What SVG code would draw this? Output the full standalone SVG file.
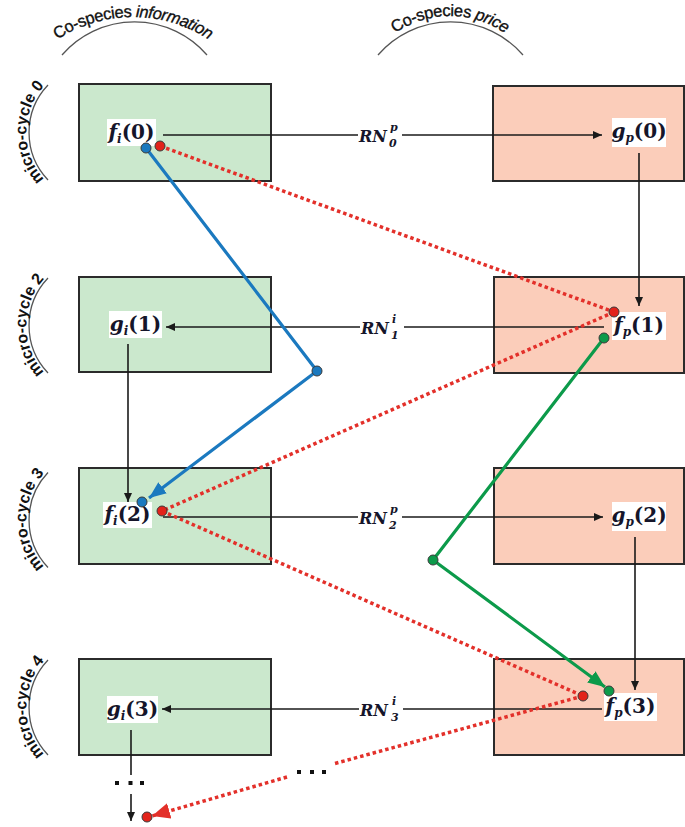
<svg xmlns="http://www.w3.org/2000/svg" width="685" height="827" viewBox="0 0 685 827">
<style>
.boxg{fill:#cbe8cd;stroke:#2b2b2b;stroke-width:2}
.boxp{fill:#fbcdba;stroke:#2b2b2b;stroke-width:2}
.lbl{fill:#ffffff}
.m{font-family:"DejaVu Serif","Liberation Serif",serif;font-weight:bold;font-size:20px;fill:#15152a}
.it{font-style:italic}
.sub{font-size:12px}
.rn{font-family:"DejaVu Serif","Liberation Serif",serif;font-weight:bold;font-style:italic;font-size:16px;fill:#15152a}
.rns{font-family:"DejaVu Serif","Liberation Serif",serif;font-weight:bold;font-style:italic;font-size:11px;fill:#15152a}
.blk{fill:none;stroke:#1a1a1a;stroke-width:1.6}
.red{fill:none;stroke:#e3302a;stroke-width:3.5;stroke-dasharray:3.5 3}
.blue{fill:none;stroke:#1b79bf;stroke-width:3.2}
.green{fill:none;stroke:#0c9a4a;stroke-width:3.2}
.bracket{fill:none;stroke:#555;stroke-width:1.3}
.hdr{font-family:"Liberation Sans",Arial,sans-serif;font-size:16.5px;letter-spacing:-0.4px;fill:#111;stroke:#111;stroke-width:0.35}
.mc{font-family:"Liberation Sans",Arial,sans-serif;font-size:16px;font-weight:bold;fill:#111}
.dot{fill:#111}
</style>
<defs>
<marker id="ab" markerUnits="userSpaceOnUse" markerWidth="9" markerHeight="8" refX="9" refY="4" orient="auto"><path d="M0,0 L9,4 L0,8 z" fill="#1a1a1a" stroke="none"/></marker>
<marker id="abl" markerUnits="userSpaceOnUse" markerWidth="17" markerHeight="14" refX="17" refY="7" orient="auto"><path d="M0,0 L17,7 L0,14 z" fill="#1b79bf" stroke="none"/></marker>
<marker id="agr" markerUnits="userSpaceOnUse" markerWidth="17" markerHeight="14" refX="17" refY="7" orient="auto"><path d="M0,0 L17,7 L0,14 z" fill="#0c9a4a" stroke="none"/></marker>
<marker id="ard" markerUnits="userSpaceOnUse" markerWidth="18" markerHeight="16" refX="18" refY="8" orient="auto"><path d="M0,0 L18,8 L0,16 z" fill="#e3302a" stroke="none"/></marker>
<path id="tl" d="M 2.4 108.5 A 139 139 0 0 1 263.6 108.5"/>
<path id="tr" d="M 359.8 79.2 A 96 96 0 0 1 540.2 79.2"/>
<path id="mc0" d="M 62 193.5 A 70 70 0 0 1 62 71.5"/>
<path id="mc2" d="M 62 386.5 A 70 70 0 0 1 62 264.5"/>
<path id="mc3" d="M 62 581 A 70 70 0 0 1 62 459"/>
<path id="mc4" d="M 62 768.5 A 70 70 0 0 1 62 646.5"/>
</defs>

<g id="headers">
<path class="bracket" d="M 62 55 A 96 96 0 0 1 207 55"/>
<text class="hdr"><textPath href="#tl" startOffset="50%" text-anchor="middle">Co-species <tspan font-style="italic">information</tspan></textPath></text>
<path class="bracket" d="M 378 55 A 96 96 0 0 1 523 55"/>
<text class="hdr"><textPath href="#tr" startOffset="50%" text-anchor="middle">Co-species <tspan font-style="italic">price</tspan></textPath></text>
</g>

<g id="cycles">
<path class="bracket" d="M 48 85 A 69 69 0 0 0 48 180"/>
<text class="mc"><textPath href="#mc0" startOffset="50%" text-anchor="middle">micro-cycle 0</textPath></text>
<path class="bracket" d="M 48 278 A 69 69 0 0 0 48 373"/>
<text class="mc"><textPath href="#mc2" startOffset="50%" text-anchor="middle">micro-cycle 2</textPath></text>
<path class="bracket" d="M 48 472.5 A 69 69 0 0 0 48 567.5"/>
<text class="mc"><textPath href="#mc3" startOffset="50%" text-anchor="middle">micro-cycle 3</textPath></text>
<path class="bracket" d="M 48 660 A 69 69 0 0 0 48 755"/>
<text class="mc"><textPath href="#mc4" startOffset="50%" text-anchor="middle">micro-cycle 4</textPath></text>
</g>

<g id="boxes">
<rect class="boxg" x="79" y="84" width="192" height="97"/>
<rect class="boxp" x="493" y="86" width="191" height="95"/>
<rect class="boxg" x="79" y="277" width="192" height="95"/>
<rect class="boxp" x="494" y="277" width="190" height="96"/>
<rect class="boxg" x="79" y="468" width="192" height="96"/>
<rect class="boxp" x="494" y="468" width="190" height="96"/>
<rect class="boxg" x="79" y="659" width="192" height="96"/>
<rect class="boxp" x="494" y="659" width="190" height="96"/>
</g>

<g id="connectors">
<path class="blk" d="M163 135 H602" marker-end="url(#ab)"/>
<path class="blk" d="M639 153 V306" marker-end="url(#ab)"/>
<path class="blk" d="M604 327 H166" marker-end="url(#ab)"/>
<path class="blk" d="M128 344 V502" marker-end="url(#ab)"/>
<path class="blk" d="M163 517 H603" marker-end="url(#ab)"/>
<path class="blk" d="M635 537 V690" marker-end="url(#ab)"/>
<path class="blk" d="M602 709 H162" marker-end="url(#ab)"/>
<path class="blk" d="M131 730 V775"/>
<path class="blk" d="M131 794 V821" marker-end="url(#ab)"/>
<rect class="dot" x="115" y="781" width="4" height="4"/>
<rect class="dot" x="128.5" y="781" width="4" height="4"/>
<rect class="dot" x="140" y="781" width="4" height="4"/>
<rect class="dot" x="297" y="770" width="4" height="4"/>
<rect class="dot" x="310" y="770" width="4" height="4"/>
<rect class="dot" x="322" y="770" width="4" height="4"/>
</g>

<g id="rn-labels">
<g id="rn0"><rect class="lbl" x="358" y="122" width="44" height="28"/><text class="rn" x="359" y="142">RN</text><text class="rns" x="390" y="131">p</text><text class="rns" x="389" y="147">0</text></g>
<g id="rn1"><rect class="lbl" x="360" y="314" width="44" height="28"/><text class="rn" x="361" y="334">RN</text><text class="rns" x="392" y="323">i</text><text class="rns" x="391" y="339">1</text></g>
<g id="rn2"><rect class="lbl" x="358" y="504" width="44" height="28"/><text class="rn" x="359" y="524">RN</text><text class="rns" x="390" y="513">p</text><text class="rns" x="389" y="529">2</text></g>
<g id="rn3"><rect class="lbl" x="359" y="696" width="44" height="28"/><text class="rn" x="360" y="716">RN</text><text class="rns" x="392" y="705">i</text><text class="rns" x="391" y="721">3</text></g>
</g>

<g id="fi0"><rect class="lbl" x="107" y="119" width="49" height="27"/><text class="m" x="131.5" y="139" text-anchor="middle"><tspan class="it">f</tspan><tspan class="it sub" dy="4">i</tspan><tspan dy="-4">(0)</tspan></text></g>
<g id="gp0"><rect class="lbl" x="612" y="118" width="54" height="29"/><text class="m" x="639" y="138" text-anchor="middle"><tspan class="it">g</tspan><tspan class="it sub" dy="4">p</tspan><tspan dy="-4">(0)</tspan></text></g>
<g id="gi1"><rect class="lbl" x="109" y="311" width="53" height="27"/><text class="m" x="135.5" y="331" text-anchor="middle"><tspan class="it">g</tspan><tspan class="it sub" dy="4">i</tspan><tspan dy="-4">(1)</tspan></text></g>
<g id="fp1"><rect class="lbl" x="612" y="312" width="54" height="28"/><text class="m" x="639" y="332" text-anchor="middle"><tspan class="it">f</tspan><tspan class="it sub" dy="4">p</tspan><tspan dy="-4">(1)</tspan></text></g>
<g id="fi2"><rect class="lbl" x="103" y="502" width="49" height="26"/><text class="m" x="127.5" y="521" text-anchor="middle"><tspan class="it">f</tspan><tspan class="it sub" dy="4">i</tspan><tspan dy="-4">(2)</tspan></text></g>
<g id="gp2"><rect class="lbl" x="612" y="502" width="54" height="29"/><text class="m" x="639" y="522" text-anchor="middle"><tspan class="it">g</tspan><tspan class="it sub" dy="4">p</tspan><tspan dy="-4">(2)</tspan></text></g>
<g id="gi3"><rect class="lbl" x="107" y="696" width="51" height="27"/><text class="m" x="132.5" y="716" text-anchor="middle"><tspan class="it">g</tspan><tspan class="it sub" dy="4">i</tspan><tspan dy="-4">(3)</tspan></text></g>
<g id="fp3"><rect class="lbl" x="604" y="693" width="53" height="28"/><text class="m" x="630.5" y="713" text-anchor="middle"><tspan class="it">f</tspan><tspan class="it sub" dy="4">p</tspan><tspan dy="-4">(3)</tspan></text></g>

<g id="flows">
<path class="red" d="M160 146 L614 312"/>
<path class="red" d="M614 312 L162 511"/>
<path class="red" d="M162 511 L583 696"/>
<path class="red" d="M583 696 L333 764"/>
<path class="red" d="M287 777 L152 816" marker-end="url(#ard)"/>
<path class="blue" d="M146 148 L317 371 L149 498" marker-end="url(#abl)"/>
<path class="green" d="M604 338 L433 560 L605 687" marker-end="url(#agr)"/>
<g stroke="#3a3a3a" stroke-width="1">
<circle cx="146" cy="148" r="5" fill="#1b79bf"/>
<circle cx="317" cy="371" r="5" fill="#1b79bf"/>
<circle cx="142" cy="502" r="5" fill="#1b79bf"/>
<circle cx="160" cy="146" r="5" fill="#e2231a"/>
<circle cx="614" cy="312" r="5" fill="#e2231a"/>
<circle cx="162" cy="511" r="5" fill="#e2231a"/>
<circle cx="583" cy="696" r="5" fill="#e2231a"/>
<circle cx="147" cy="817" r="5" fill="#e2231a"/>
<circle cx="604" cy="338" r="5" fill="#0c9a4a"/>
<circle cx="433" cy="560" r="5" fill="#0c9a4a"/>
<circle cx="609" cy="691" r="5" fill="#0c9a4a"/>
</g>
</g>
</svg>
